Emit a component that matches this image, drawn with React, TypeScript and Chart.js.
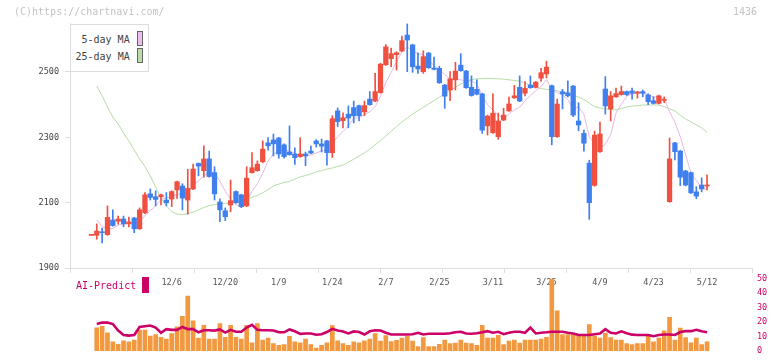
import React, { useEffect, useRef } from "react";
import { Chart, registerables } from "chart.js";

Chart.register(...registerables);

// ---- tick labels / axis values ----
const TICK_INDEX = [15, 25, 35, 45, 55, 65, 75, 85, 95, 105, 115];
const TICK_LABELS = ["12/6", "12/20", "1/9", "1/24", "2/7", "2/25", "3/11", "3/25", "4/9", "4/23", "5/12"];
const PRICE_TICKS = [1900, 2100, 2300, 2500];
const VOLUME_TICKS = [0, 10, 20, 30, 40, 50];

// ---- daily prices (index 0 .. 115) ----
const OPEN = [
  2000, 2000, 2010, 2002, 2047, 2043, 2050, 2035, 2053, 2020,
  2069, 2127, 2118, 2118, 2108, 2111, 2139, 2151, 2108, 2142,
  2220, 2198, 2234, 2192, 2102, 2075, 2093, 2134, 2124, 2090,
  2192, 2198, 2225, 2283, 2292, 2298, 2277, 2255, 2249, 2241,
  2249, 2258, 2289, 2280, 2289, 2253, 2381, 2351, 2371, 2391,
  2397, 2378, 2417, 2411, 2437, 2522, 2541, 2553, 2564, 2613,
  2583, 2518, 2501, 2558, 2512, 2511, 2460, 2445, 2476, 2521,
  2503, 2453, 2447, 2433, 2335, 2314, 2302, 2353, 2381, 2421,
  2453, 2435, 2460, 2453, 2481, 2494, 2458, 2302, 2439, 2436,
  2457, 2350, 2312, 2221, 2153, 2256, 2448, 2387, 2424, 2431,
  2440, 2442, 2435, 2440, 2430, 2412, 2404, 2413, 2103, 2283,
  2258, 2197, 2192, 2133, 2154, 2151,
];
const CLOSE = [
  2001, 2013, 2008, 2055, 2030, 2050, 2035, 2041, 2020, 2078,
  2124, 2116, 2110, 2124, 2100, 2134, 2164, 2114, 2144, 2203,
  2212, 2234, 2180, 2127, 2078, 2057, 2106, 2100, 2088, 2175,
  2207, 2218, 2264, 2274, 2280, 2249, 2241, 2247, 2238, 2249,
  2243, 2252, 2280, 2273, 2253, 2357, 2348, 2360, 2359, 2366,
  2366, 2397, 2400, 2440, 2524, 2577, 2556, 2559, 2596, 2598,
  2516, 2509, 2547, 2513, 2508, 2467, 2426, 2479, 2503, 2504,
  2452, 2428, 2432, 2322, 2365, 2374, 2350, 2368, 2402, 2427,
  2411, 2450, 2452, 2469, 2498, 2515, 2302, 2402, 2433, 2427,
  2368, 2338, 2282, 2100, 2307, 2310, 2396, 2427, 2434, 2440,
  2431, 2435, 2439, 2435, 2409, 2404, 2427, 2415, 2234, 2256,
  2178, 2154, 2130, 2120, 2142, 2153,
];
const HIGH = [
  2001, 2035, 2022, 2090, 2078, 2059, 2059, 2056, 2055, 2084,
  2131, 2142, 2136, 2126, 2131, 2136, 2166, 2158, 2202, 2218,
  2222, 2274, 2258, 2210, 2112, 2084, 2169, 2136, 2126, 2210,
  2253, 2228, 2289, 2299, 2310, 2300, 2280, 2335, 2268, 2299,
  2255, 2273, 2293, 2295, 2291, 2366, 2390, 2375, 2396, 2411,
  2399, 2411, 2440, 2496, 2527, 2584, 2573, 2562, 2610, 2647,
  2585, 2559, 2565, 2560, 2546, 2518, 2462, 2501, 2530, 2556,
  2505, 2488, 2476, 2435, 2368, 2433, 2374, 2389, 2423, 2459,
  2488, 2471, 2488, 2471, 2511, 2533, 2460, 2417, 2447, 2473,
  2459, 2406, 2322, 2230, 2319, 2347, 2486, 2440, 2451, 2457,
  2442, 2451, 2441, 2445, 2433, 2424, 2429, 2424, 2298, 2285,
  2260, 2199, 2194, 2149, 2176, 2185,
];
const LOW = [
  2000, 1988, 1977, 2000, 2028, 2034, 2026, 2026, 2008, 2018,
  2066, 2108, 2090, 2093, 2090, 2088, 2113, 2078, 2065, 2140,
  2182, 2178, 2178, 2108, 2042, 2045, 2072, 2098, 2085, 2088,
  2190, 2196, 2222, 2261, 2243, 2236, 2236, 2245, 2217, 2239,
  2213, 2250, 2270, 2255, 2215, 2238, 2333, 2329, 2329, 2344,
  2350, 2366, 2398, 2409, 2435, 2520, 2516, 2506, 2562, 2501,
  2499, 2496, 2496, 2511, 2506, 2465, 2389, 2412, 2445, 2502,
  2450, 2426, 2430, 2312, 2307, 2312, 2294, 2351, 2379, 2419,
  2409, 2427, 2450, 2451, 2471, 2482, 2277, 2300, 2387, 2424,
  2363, 2320, 2258, 2049, 2150, 2254, 2371, 2350, 2422, 2429,
  2428, 2417, 2420, 2424, 2400, 2402, 2402, 2406, 2101, 2231,
  2152, 2151, 2128, 2112, 2133, 2139,
];
const MA5 = [
  null, 2047, 2027, 2019, 2021, 2031, 2036, 2042, 2035, 2045,
  2060, 2076, 2090, 2110, 2115, 2117, 2126, 2127, 2131, 2152,
  2167, 2181, 2195, 2191, 2166, 2135, 2110, 2094, 2086, 2105,
  2135, 2158, 2190, 2228, 2249, 2257, 2262, 2258, 2251, 2245,
  2244, 2246, 2252, 2259, 2260, 2283, 2302, 2318, 2335, 2358,
  2360, 2370, 2378, 2394, 2425, 2468, 2499, 2531, 2562, 2577,
  2565, 2556, 2553, 2537, 2519, 2509, 2492, 2479, 2477, 2476,
  2473, 2473, 2464, 2428, 2400, 2384, 2369, 2356, 2372, 2384,
  2392, 2412, 2428, 2442, 2456, 2477, 2447, 2437, 2430, 2416,
  2386, 2394, 2370, 2303, 2279, 2267, 2279, 2308, 2375, 2401,
  2426, 2433, 2436, 2436, 2430, 2424, 2423, 2418, 2378, 2347,
  2302, 2247, 2190, 2168, 2145, 2140,
];
const MA25 = [
  null, 2457, 2427, 2393, 2362, 2341, 2313, 2289, 2261, 2234,
  2211, 2182, 2148, 2114, 2090, 2073, 2065, 2064, 2066, 2071,
  2078, 2085, 2091, 2094, 2097, 2098, 2099, 2102, 2104, 2107,
  2117, 2122, 2130, 2140, 2151, 2157, 2162, 2165, 2172, 2179,
  2183, 2188, 2194, 2198, 2203, 2206, 2211, 2215, 2224, 2233,
  2243, 2252, 2264, 2277, 2290, 2304, 2319, 2333, 2347, 2359,
  2371, 2382, 2392, 2402, 2412, 2423, 2433, 2443, 2453, 2463,
  2472, 2477, 2479, 2480, 2481, 2480, 2479, 2478, 2476, 2474,
  2472, 2466, 2460, 2454, 2449, 2447, 2445, 2442, 2440, 2436,
  2430, 2423, 2416, 2405, 2394, 2390, 2387, 2385, 2384, 2388,
  2393, 2396, 2397, 2399, 2399, 2399, 2399, 2394, 2387, 2381,
  2368, 2356, 2347, 2338, 2329, 2315,
];
const VOLUME = [
  null, 15.9, 17, 12.5, 6.3, 4.6, 6.9, 6.3, 7.5, 14.4,
  14.4, 10.2, 11.3, 9.4, 8.2, 11.9, 16.5, 23.8, 37.8, 20.7,
  8.8, 17.6, 8.2, 8.2, 18.8, 9.4, 17.6, 9.4, 8.2, 17.6,
  5.6, 18.8, 7.5, 8.8, 5, 3.8, 4.4, 10, 6.3, 5.6,
  8.2, 4.4, 1.9, 3.8, 5.6, 17.4, 6.9, 5, 3.8, 6.3,
  5.6, 6.9, 8.2, 11.9, 6.8, 10.5, 6.5, 7.2, 8.8, 10,
  6.7, 2.9, 9.2, 2.9, 2.9, 4.6, 7.5, 5, 5.4, 7.5,
  5.4, 5, 3.8, 17.6, 8.8, 8.8, 10.7, 4.4, 6.7, 7.5,
  5.4, 7.5, 7.5, 7.5, 8.2, 9.4, 49.4, 27.6, 11.3, 11.3,
  11.3, 10.2, 10.2, 18.2, 10.2, 8.8, 12.3, 9.2, 7.5, 7.5,
  5, 4.4, 5, 5, 10.7, 6.3, 8.8, 13.8, 23.2, 7.5,
  15.7, 9.2, 5.6, 8.8, 4.4, 6.3,
];
const AI_PREDICT = [
  null, 18.6, 19.5, 19.5, 18.5, 14, 11, 10.5, 11, 16.5,
  17, 17.5, 16, 12.5, 15, 14.5, 14.5, 16.5, 15, 15,
  12.8, 14.2, 14.2, 14, 14.8, 12.6, 14.5, 13.2, 13.2, 16.1,
  18, 14.5, 14.2, 14.2, 14, 12.8, 12.8, 14.8, 13.5, 11.7,
  12, 12, 11.1, 11.5, 13, 15.2, 14, 13.4, 12, 13.4,
  13, 11.3, 13.5, 14.2, 14, 12.5, 11.3, 11.3, 11.3, 11.3,
  11.5, 12.5, 11.3, 11.8, 11.8, 11.8, 11.8, 12.2, 12.8, 13.2,
  12, 11.8, 12.2, 12.8, 13.6, 12.5, 13.2, 11.5, 12.5, 13.2,
  13.2, 12.5, 16, 12, 12.5, 12.8, 13.2, 13.2, 13.2, 12.5,
  12, 11, 10.9, 10.9, 11.5, 12, 15, 12.5, 12, 13.5,
  12.2, 11.2, 11, 11, 11, 10.1, 11, 11.3, 11.3, 11,
  13, 13.6, 13.6, 14.5, 13.5, 12.8,
];

const X_MIN = -4;
const X_MAX = 123.4;
const RED = "#f05040";
const BLUE = "#3f7fee";
const MONO = "'DejaVu Sans Mono', monospace";

export default function App() {
  const mainRef = useRef<HTMLCanvasElement>(null);
  const volRef = useRef<HTMLCanvasElement>(null);

  useEffect(() => {
    Chart.defaults.font.family = MONO;
    const idx = CLOSE.map((_, i) => i);
    const colors = idx.map((i) => (CLOSE[i] >= OPEN[i] ? RED : BLUE));

    const main = new Chart(mainRef.current as HTMLCanvasElement, {
      type: "bar",
      data: {
        datasets: [
          {
            type: "line",
            data: idx.map((i) => ({ x: i, y: MA25[i] })),
            borderColor: "#b6dca6",
            borderWidth: 1,
            pointRadius: 0,
            order: 4,
          } as any,
          {
            type: "line",
            data: idx.map((i) => ({ x: i, y: MA5[i] })),
            borderColor: "#e8b6e8",
            borderWidth: 1,
            pointRadius: 0,
            order: 3,
          } as any,
          {
            type: "bar",
            data: idx.map((i) => ({ x: i, y: [LOW[i], HIGH[i]] })),
            backgroundColor: colors,
            grouped: false,
            barThickness: 1,
            order: 2,
          } as any,
          {
            type: "bar",
            data: idx.map((i) => ({ x: i, y: [OPEN[i], CLOSE[i]] })),
            backgroundColor: colors,
            grouped: false,
            barThickness: 4.6,
            minBarLength: 1,
            order: 1,
          } as any,
        ],
      },
      options: {
        responsive: false,
        animation: false,
        events: [],
        layout: { padding: { top: 23, right: 20, bottom: 7, left: 0 } },
        plugins: { legend: { display: false }, tooltip: { enabled: false } },
        scales: {
          x: {
            type: "linear",
            min: X_MIN,
            max: X_MAX,
            offset: false,
            position: "bottom",
            weight: 1,
            grid: { display: false, drawTicks: false, offset: false },
            border: { display: false },
            afterBuildTicks: (a: any) => {
              a.ticks = TICK_INDEX.map((v) => ({ value: v }));
            },
            afterFit: (a: any) => {
              a.height = 20;
            },
            ticks: {
              autoSkip: false,
              maxRotation: 0,
              padding: 5,
              color: "#555",
              font: { family: MONO, size: 8.5 },
              callback: (v: any) => {
                const k = TICK_INDEX.indexOf(Number(v));
                return k >= 0 ? TICK_LABELS[k] : "";
              },
            },
          },
          x2: {
            type: "linear",
            min: 0,
            max: 11,
            offset: false,
            position: "bottom",
            weight: 0,
            grid: { drawOnChartArea: false, drawTicks: true, tickLength: 5, color: "#dddddd", offset: false },
            border: { display: true, color: "#dddddd" },
            ticks: { display: false, stepSize: 1 },
            afterFit: (a: any) => {
              a.height = 5;
            },
          },
          y: {
            type: "linear",
            min: 1900,
            max: 2650,
            position: "left",
            afterBuildTicks: (a: any) => {
              a.ticks = PRICE_TICKS.map((v) => ({ value: v }));
            },
            afterFit: (a: any) => {
              a.width = 70;
            },
            grid: { drawOnChartArea: false, drawTicks: true, tickLength: 5, color: "#dddddd" },
            border: { display: true, color: "#dddddd" },
            ticks: {
              padding: 6,
              color: "#444",
              font: { family: MONO, size: 8.5 },
              callback: (v: any) => String(v),
            },
          },
        },
      } as any,
    });

    const vol = new Chart(volRef.current as HTMLCanvasElement, {
      type: "bar",
      data: {
        datasets: [
          {
            type: "line",
            data: idx.map((i) => ({ x: i, y: AI_PREDICT[i] })),
            borderColor: "#cc0066",
            borderWidth: 2.6,
            pointRadius: 0,
            order: 1,
          } as any,
          {
            type: "bar",
            data: idx.map((i) => ({ x: i, y: VOLUME[i] })),
            backgroundColor: "#f2983e",
            grouped: false,
            barThickness: 4,
            order: 2,
          } as any,
        ],
      },
      options: {
        responsive: false,
        animation: false,
        events: [],
        layout: { padding: { top: 10.3, right: 0, bottom: 3, left: 70 } },
        plugins: { legend: { display: false }, tooltip: { enabled: false } },
        scales: {
          x: { type: "linear", min: X_MIN, max: X_MAX, offset: false, display: false, grid: { offset: false } },
          y: {
            type: "linear",
            min: 0,
            max: 50,
            position: "right",
            afterBuildTicks: (a: any) => {
              a.ticks = VOLUME_TICKS.map((v) => ({ value: v }));
            },
            afterFit: (a: any) => {
              a.width = 20;
            },
            grid: { display: false, drawTicks: false },
            border: { display: false },
            ticks: { padding: 5, color: "#cc0066", font: { family: MONO, size: 8.5 } },
          },
        },
      } as any,
    });

    return () => {
      main.destroy();
      vol.destroy();
    };
  }, []);

  const txt = (extra: any) => ({
    position: "absolute" as const,
    fontFamily: MONO,
    fontSize: 10,
    lineHeight: "12px",
    whiteSpace: "nowrap" as const,
    ...extra,
  });

  return (
    <div style={{ position: "absolute", left: 0, top: 0, width: 772, height: 361, background: "#fff", overflow: "hidden" }}>
      <canvas ref={mainRef} width={772} height={300} style={{ position: "absolute", left: 0, top: 0 }} />
      <canvas ref={volRef} width={772} height={93} style={{ position: "absolute", left: 0, top: 268 }} />
      <div style={txt({ left: 14, top: 6, color: "#c4c4c4" })}>(C)https://chartnavi.com/</div>
      <div style={txt({ left: 733, top: 6, color: "#c4c4c4" })}>1436</div>
      <div
        style={{
          position: "absolute",
          left: 70,
          top: 24,
          width: 79,
          height: 48,
          boxSizing: "border-box",
          border: "1px solid #dddddd",
          background: "#fff",
        }}
      />
      <div style={txt({ left: 81.5, top: 34, color: "#444" })}>5-day MA</div>
      <div
        style={{ position: "absolute", left: 137, top: 31, width: 6, height: 15, boxSizing: "border-box", border: "1px solid #666", background: "#eebcee" }}
      />
      <div style={txt({ left: 75.5, top: 50.7, color: "#444" })}>25-day MA</div>
      <div
        style={{ position: "absolute", left: 137, top: 48, width: 6, height: 15, boxSizing: "border-box", border: "1px solid #666", background: "#bbdcaa" }}
      />
      <div style={txt({ left: 76, top: 280, color: "#cc0066" })}>AI-Predict</div>
      <div style={{ position: "absolute", left: 142, top: 277, width: 7, height: 16, background: "#cc0066" }} />
    </div>
  );
}
